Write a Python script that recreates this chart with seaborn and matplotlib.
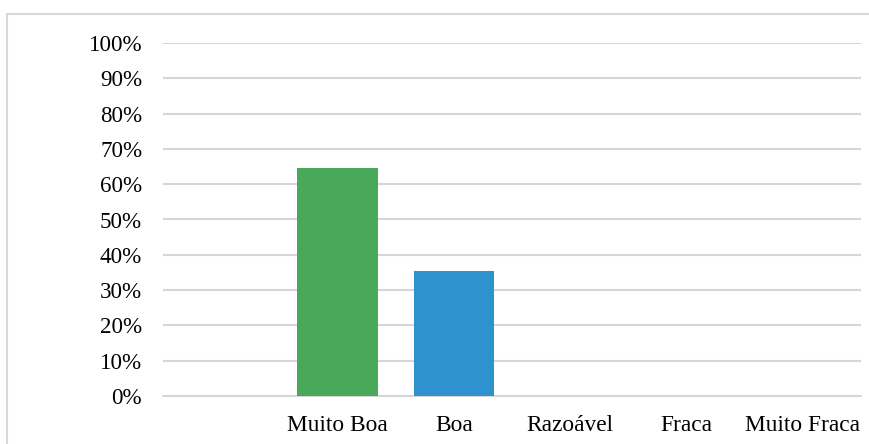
import matplotlib
matplotlib.use("Agg")
import matplotlib.pyplot as plt
from matplotlib.lines import Line2D
from matplotlib.ticker import FuncFormatter, MultipleLocator
import seaborn as sns
import pandas as pd

# Rating categories (the first slot is left blank) and share of answers, in %
categories = ["", "Muito Boa", "Boa", "Razoável", "Fraca", "Muito Fraca"]
shares = [0, 64.7, 35.3, 0, 0, 0]
bar_colors = ["#4aa85a", "#4aa85a", "#2e92cf", "#8c8c8c", "#8c8c8c", "#8c8c8c"]

sns.set_theme(style="white")
plt.rcParams["font.family"] = ["Liberation Serif", "DejaVu Serif"]

df = pd.DataFrame({"categoria": categories, "percent": shares})

W, H, DPI = 869, 444, 100
fig = plt.figure(figsize=(W / DPI, H / DPI), dpi=DPI)
ax = fig.add_axes([163 / W, 1 - 396 / H, (861 - 163) / W, (396 - 43) / H])

sns.barplot(data=df, x="categoria", y="percent", hue="categoria",
            palette=bar_colors, legend=False, width=0.69, saturation=1,
            linewidth=0, ax=ax, zorder=3)

ax.set_ylim(0, 100)
ax.yaxis.set_major_locator(MultipleLocator(10))
ax.yaxis.set_major_formatter(FuncFormatter(lambda v, _: f"{v:.0f}%"))
ax.set_xlabel("")
ax.set_ylabel("")
ax.grid(axis="y", color="#d6d6d6", linewidth=1.5, zorder=0)
ax.grid(axis="x", visible=False)
# full-width baseline at 0% (the gridline there is half clipped by the axes edge)
ax.axhline(0, color="#d6d6d6", linewidth=1.5, zorder=2, clip_on=False)
for side in ax.spines.values():
    side.set_visible(False)
ax.tick_params(axis="y", length=0, pad=15, labelsize=16.6, colors="#000000")
ax.tick_params(axis="x", length=0, pad=14, labelsize=16.8, colors="#000000")

# Light frame around the chart area
frame_kw = dict(color="#d9d9d9", linewidth=1.5, transform=fig.transFigure)
fig.add_artist(Line2D([7 / W, 1.0], [1 - 14 / H, 1 - 14 / H], **frame_kw))
fig.add_artist(Line2D([7 / W, 7 / W], [0, 1 - 14 / H], **frame_kw))

fig.savefig("out.png", dpi=DPI)
